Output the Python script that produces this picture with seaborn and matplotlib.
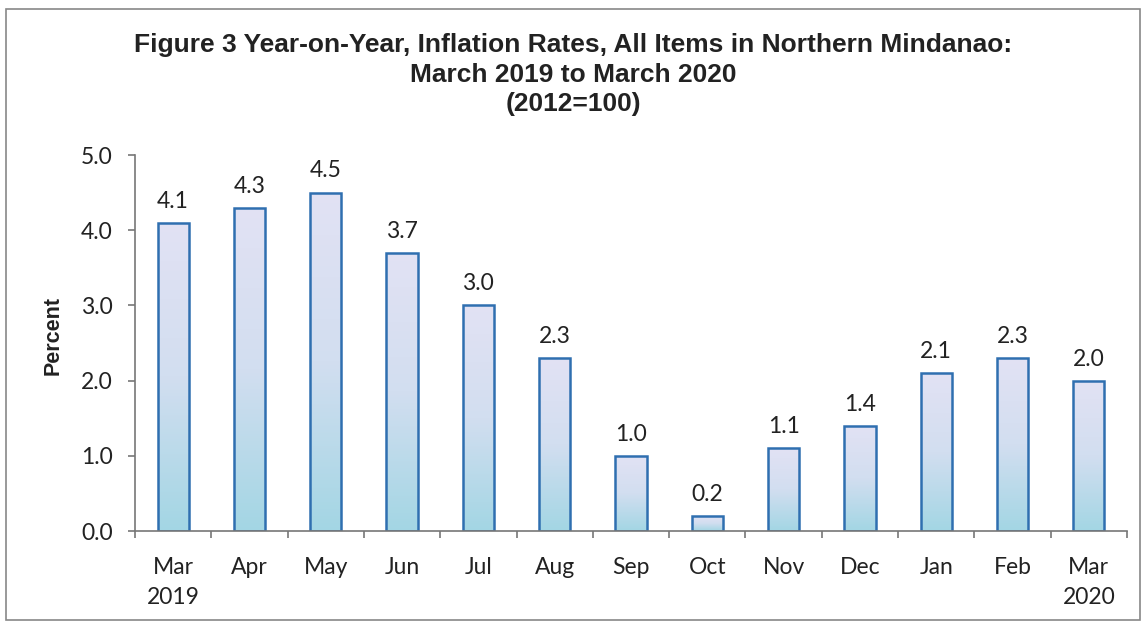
import numpy as np
import pandas as pd
import matplotlib
matplotlib.use("Agg")
import matplotlib.pyplot as plt
from matplotlib.patches import Rectangle
from matplotlib.colors import LinearSegmentedColormap
import seaborn as sns

months = ["Mar\n2019", "Apr", "May", "Jun", "Jul", "Aug", "Sep", "Oct",
          "Nov", "Dec", "Jan", "Feb", "Mar\n2020"]
rates = [4.1, 4.3, 4.5, 3.7, 3.0, 2.3, 1.0, 0.2, 1.1, 1.4, 2.1, 2.3, 2.0]
yticks = [0.0, 1.0, 2.0, 3.0, 4.0, 5.0]

title = ("Figure 3 Year-on-Year, Inflation Rates, All Items in Northern Mindanao:\n"
         "March 2019 to March 2020\n(2012=100)")

sns.set_theme(style="white")
plt.rcParams['font.family'] = ['Lato', 'DejaVu Sans']

df = pd.DataFrame({"month": months, "rate": rates})

fig = plt.figure(figsize=(11.46, 6.24), dpi=100)
ax = fig.add_axes([0.1178, 0.149, 0.8656, 0.6026])

sns.barplot(data=df, x="month", y="rate", ax=ax, width=0.41,
            color="#dfe0f2", edgecolor="#2f6fb0", linewidth=1.8, saturation=1)

cmap = LinearSegmentedColormap.from_list("g", ["#a3d6e4", "#d2def0", "#e2e2f4"])
grad = np.linspace(0, 1, 256).reshape(-1, 1)
for p in list(ax.patches):
    x0, y0 = p.get_x(), p.get_y()
    w, h = p.get_width(), p.get_height()
    im = ax.imshow(grad, cmap=cmap, origin="lower", aspect="auto",
                   extent=[x0, x0 + w, y0, y0 + h], zorder=p.get_zorder() - 0.1)
    im.set_clip_path(p)
    p.set_facecolor("none")

for c in ax.containers:
    ax.bar_label(c, labels=[f"{v:.1f}" for v in c.datavalues], padding=8,
                 fontsize=16.5, color="#222222")

ax.set_xlim(-0.5, len(months) - 0.5)
ax.set_ylim(0, 5)
ax.set_yticks(yticks)
ax.set_yticklabels([f"{v:.1f}" for v in yticks], fontsize=16.5, color="#222222")
ax.set_xticks(range(len(months)))
ax.set_xticklabels(months, fontsize=16.5, color="#222222", linespacing=1.5)
ax.set_xticks(np.arange(-0.5, len(months), 1.0), minor=True)
ax.tick_params(axis="x", which="major", length=0, pad=19)
ax.tick_params(axis="x", which="minor", length=5, width=1.2, color="#777777", direction="out", bottom=True)
ax.tick_params(axis="y", length=5, width=1.2, color="#777777", direction="out", left=True, pad=11)

for s in ["top", "right"]:
    ax.spines[s].set_visible(False)
for s in ["left", "bottom"]:
    ax.spines[s].set_color("#777777")
    ax.spines[s].set_linewidth(1.2)

ax.set_xlabel("")
ax.set_ylabel("Percent", fontsize=15.5, fontweight="bold", family=["Liberation Sans", "DejaVu Sans"],
              color="#222222", labelpad=8)
ax.yaxis.set_label_coords(-0.072, 0.52)

fig.text(0.5, 1 - 33 / 624, title, ha="center", va="top", fontsize=19, fontweight="bold",
         family=["Liberation Sans", "DejaVu Sans"], color="#222222", linespacing=1.3)

fig.patches.append(Rectangle((6 / 1146, 1 - 620 / 624), 1134 / 1146, 611 / 624,
                             transform=fig.transFigure, fill=False,
                             edgecolor="#888888", linewidth=1.2))

fig.savefig("out.png", dpi=100)
